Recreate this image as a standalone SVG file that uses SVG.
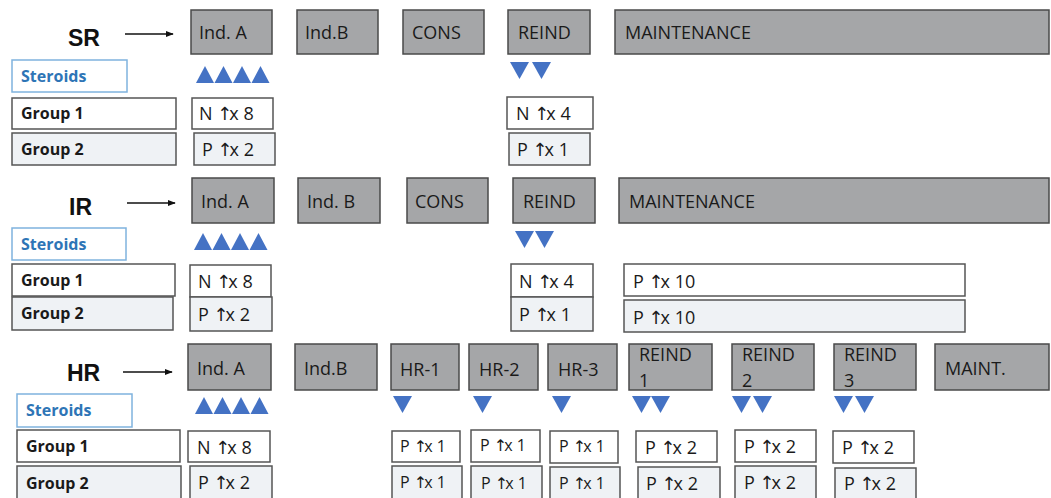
<svg xmlns="http://www.w3.org/2000/svg" width="1051" height="498" viewBox="0 0 1051 498">
<defs>
<style>
.ph{fill:#a5a6a8;stroke:#4a4a4a;stroke-width:1.5}
.wb{fill:#ffffff;stroke:#555;stroke-width:1.5}
.gb{fill:#eff2f5;stroke:#555;stroke-width:1.5}
.sb{fill:#ffffff;stroke:#7fb3de;stroke-width:1.5}
.t{font-family:"Open Sans","Liberation Sans",sans-serif;font-size:18px;fill:#1a1a1a}
.ts{font-family:"Open Sans","Liberation Sans",sans-serif;font-size:16px;fill:#1a1a1a}
.tg{font-family:"Open Sans","Liberation Sans",sans-serif;font-size:16px;font-weight:bold;fill:#1a1a1a}
.st{font-family:"Open Sans","Liberation Sans",sans-serif;font-size:16px;font-weight:bold;fill:#2e75b6}
.lb{font-family:"Liberation Sans",Arial,sans-serif;font-size:23px;font-weight:bold;fill:#111}
.a{font-family:"DejaVu Sans",sans-serif;font-size:1em;letter-spacing:-3px;fill:#1a1a1a}
.tri{fill:#4472c4}
.ar{stroke:#111;stroke-width:1.3;fill:none}
</style>
<marker id="ah" viewBox="0 0 10 10" refX="9" refY="5" markerWidth="8" markerHeight="8" orient="auto" markerUnits="userSpaceOnUse"><path d="M0,1 L10,5 L0,9 z" fill="#111"/></marker>
<path id="up" d="M0,17 L9,0 L18,17 z"/>
<path id="dn" d="M0,0 L19,0 L9.5,17 z"/>
</defs>
<rect width="1051" height="498" fill="#ffffff"/>

<g id="connectors">
<line class="ar" x1="125" y1="34" x2="173" y2="34" marker-end="url(#ah)"/>
<line class="ar" x1="127" y1="203" x2="175" y2="203" marker-end="url(#ah)"/>
<line class="ar" x1="123" y1="372" x2="172" y2="372" marker-end="url(#ah)"/>
</g>

<!-- SR row -->
<g id="sr-label"><text class="lb" x="68" y="46">SR</text></g>
<g id="sr-inda"><rect class="ph" x="191" y="10" width="81" height="44"/><text class="t" x="199" y="39">Ind. A</text></g>
<g id="sr-indb"><rect class="ph" x="297" y="10" width="81" height="44"/><text class="t" x="305" y="39">Ind.B</text></g>
<g id="sr-cons"><rect class="ph" x="403" y="10" width="81" height="44"/><text class="t" x="412" y="39">CONS</text></g>
<g id="sr-reind"><rect class="ph" x="508" y="10" width="82" height="44"/><text class="t" x="518" y="39">REIND</text></g>
<g id="sr-maint"><rect class="ph" x="615" y="10" width="434" height="44"/><text class="t" x="625" y="39">MAINTENANCE</text></g>
<g id="sr-steroids"><rect class="sb" x="12" y="60" width="115" height="32"/><text class="st" x="21" y="82">Steroids</text></g>
<g id="sr-tri-up" class="tri"><use href="#up" x="196" y="66"/><use href="#up" x="214.5" y="66"/><use href="#up" x="233" y="66"/><use href="#up" x="251.5" y="66"/></g>
<g id="sr-tri-dn" class="tri"><use href="#dn" x="510" y="62"/><use href="#dn" x="532" y="62"/></g>
<g id="sr-g1"><rect class="wb" x="12" y="98" width="164" height="31"/><text class="tg" x="21" y="119">Group 1</text></g>
<g id="sr-g2"><rect class="gb" x="12" y="133" width="164" height="32"/><text class="tg" x="21" y="155">Group 2</text></g>
<g id="sr-n8"><rect class="wb" x="192" y="98" width="81" height="31"/><text class="t" x="199" y="120">N <tspan class="a">↑</tspan>x 8</text></g>
<g id="sr-p2"><rect class="gb" x="194" y="133" width="81" height="32"/><text class="t" x="202" y="156">P <tspan class="a">↑</tspan>x 2</text></g>
<g id="sr-n4"><rect class="wb" x="507" y="97" width="86" height="32"/><text class="t" x="516" y="120">N <tspan class="a">↑</tspan>x 4</text></g>
<g id="sr-p1"><rect class="gb" x="509" y="133" width="81" height="32"/><text class="t" x="517" y="156">P <tspan class="a">↑</tspan>x 1</text></g>

<!-- IR row -->
<g id="ir-label"><text class="lb" x="69" y="215">IR</text></g>
<g id="ir-inda"><rect class="ph" x="192" y="178" width="82" height="45"/><text class="t" x="201" y="208">Ind. A</text></g>
<g id="ir-indb"><rect class="ph" x="298" y="178" width="82" height="45"/><text class="t" x="307" y="208">Ind. B</text></g>
<g id="ir-cons"><rect class="ph" x="407" y="178" width="81" height="45"/><text class="t" x="415" y="208">CONS</text></g>
<g id="ir-reind"><rect class="ph" x="513" y="178" width="82" height="45"/><text class="t" x="523" y="208">REIND</text></g>
<g id="ir-maint"><rect class="ph" x="619" y="178" width="430" height="45"/><text class="t" x="629" y="208">MAINTENANCE</text></g>
<g id="ir-steroids"><rect class="sb" x="12" y="228" width="114" height="32"/><text class="st" x="21" y="250">Steroids</text></g>
<g id="ir-tri-up" class="tri"><use href="#up" x="194" y="233"/><use href="#up" x="212.5" y="233"/><use href="#up" x="231" y="233"/><use href="#up" x="249.5" y="233"/></g>
<g id="ir-tri-dn" class="tri"><use href="#dn" x="515" y="231"/><use href="#dn" x="535" y="231"/></g>
<g id="ir-g1"><rect class="wb" x="12" y="264" width="163" height="32"/><text class="tg" x="21" y="286">Group 1</text></g>
<g id="ir-g2"><rect class="gb" x="12" y="297" width="161" height="33"/><text class="tg" x="21" y="319">Group 2</text></g>
<g id="ir-n8"><rect class="wb" x="190" y="265" width="81" height="32"/><text class="t" x="198" y="288">N <tspan class="a">↑</tspan>x 8</text></g>
<g id="ir-p2"><rect class="gb" x="190" y="297" width="82" height="34"/><text class="t" x="198" y="321">P <tspan class="a">↑</tspan>x 2</text></g>
<g id="ir-n4"><rect class="wb" x="511" y="264" width="82" height="33"/><text class="t" x="519" y="288">N <tspan class="a">↑</tspan>x 4</text></g>
<g id="ir-p1"><rect class="gb" x="511" y="297" width="82" height="34"/><text class="t" x="519" y="321">P <tspan class="a">↑</tspan>x 1</text></g>
<g id="ir-m1"><rect class="wb" x="624" y="264" width="341" height="32"/><text class="t" x="633" y="288">P <tspan class="a">↑</tspan>x 10</text></g>
<g id="ir-m2"><rect class="gb" x="624" y="300" width="341" height="32"/><text class="t" x="633" y="324">P <tspan class="a">↑</tspan>x 10</text></g>

<!-- HR row -->
<g id="hr-label"><text class="lb" x="67" y="381">HR</text></g>
<g id="hr-inda"><rect class="ph" x="188" y="344" width="83" height="46"/><text class="t" x="197" y="375">Ind. A</text></g>
<g id="hr-indb"><rect class="ph" x="295" y="344" width="82" height="46"/><text class="t" x="304" y="375">Ind.B</text></g>
<g id="hr-1"><rect class="ph" x="391" y="344" width="68" height="46"/><text class="t" x="400" y="376">HR-1</text></g>
<g id="hr-2"><rect class="ph" x="469" y="344" width="69" height="46"/><text class="t" x="479" y="376">HR-2</text></g>
<g id="hr-3"><rect class="ph" x="548" y="344" width="69" height="46"/><text class="t" x="558" y="376">HR-3</text></g>
<g id="hr-reind1"><rect class="ph" x="629" y="344" width="83" height="46"/><text class="t" x="639" y="361">REIND</text><text class="t" x="639" y="387">1</text></g>
<g id="hr-reind2"><rect class="ph" x="732" y="344" width="82" height="46"/><text class="t" x="742" y="361">REIND</text><text class="t" x="742" y="387">2</text></g>
<g id="hr-reind3"><rect class="ph" x="834" y="344" width="82" height="46"/><text class="t" x="844" y="361">REIND</text><text class="t" x="844" y="387">3</text></g>
<g id="hr-maint"><rect class="ph" x="935" y="344" width="114" height="46"/><text class="t" x="945" y="375">MAINT.</text></g>
<g id="hr-steroids"><rect class="sb" x="17" y="394" width="115" height="33"/><text class="st" x="26" y="416">Steroids</text></g>
<g id="hr-tri-up" class="tri"><use href="#up" x="195" y="397"/><use href="#up" x="213.5" y="397"/><use href="#up" x="232" y="397"/><use href="#up" x="250.5" y="397"/></g>
<g id="hr-tri-dn" class="tri"><use href="#dn" x="393" y="396"/><use href="#dn" x="473" y="396"/><use href="#dn" x="552" y="396"/><use href="#dn" x="632" y="396"/><use href="#dn" x="651" y="396"/><use href="#dn" x="732" y="396"/><use href="#dn" x="753" y="396"/><use href="#dn" x="834" y="396"/><use href="#dn" x="855" y="396"/></g>
<g id="hr-g1"><rect class="wb" x="17" y="430" width="163" height="32"/><text class="tg" x="26" y="452">Group 1</text></g>
<g id="hr-g2"><rect class="gb" x="17" y="466" width="164" height="34"/><text class="tg" x="26" y="489">Group 2</text></g>
<g id="hr-n8"><rect class="wb" x="188" y="431" width="82" height="31"/><text class="t" x="197" y="454">N <tspan class="a">↑</tspan>x 8</text></g>
<g id="hr-p2"><rect class="gb" x="190" y="466" width="82" height="34"/><text class="t" x="198" y="489">P <tspan class="a">↑</tspan>x 2</text></g>
<g id="hr1-a"><rect class="wb" x="392" y="431" width="68" height="31"/><text class="ts" x="400" y="452">P <tspan class="a">↑</tspan>x 1</text></g>
<g id="hr1-b"><rect class="gb" x="392" y="466" width="70" height="34"/><text class="ts" x="400" y="488">P <tspan class="a">↑</tspan>x 1</text></g>
<g id="hr2-a"><rect class="wb" x="471" y="430" width="69" height="32"/><text class="ts" x="480" y="451">P <tspan class="a">↑</tspan>x 1</text></g>
<g id="hr2-b"><rect class="gb" x="471" y="466" width="71" height="34"/><text class="ts" x="481" y="489">P <tspan class="a">↑</tspan>x 1</text></g>
<g id="hr3-a"><rect class="wb" x="550" y="431" width="68" height="32"/><text class="ts" x="559" y="452">P <tspan class="a">↑</tspan>x 1</text></g>
<g id="hr3-b"><rect class="gb" x="550" y="467" width="70" height="33"/><text class="ts" x="559" y="489">P <tspan class="a">↑</tspan>x 1</text></g>
<g id="r1-a"><rect class="wb" x="636" y="431" width="81" height="31"/><text class="t" x="645" y="454">P <tspan class="a">↑</tspan>x 2</text></g>
<g id="r1-b"><rect class="gb" x="638" y="467" width="82" height="33"/><text class="t" x="646" y="490">P <tspan class="a">↑</tspan>x 2</text></g>
<g id="r2-a"><rect class="wb" x="735" y="430" width="81" height="32"/><text class="t" x="744" y="453">P <tspan class="a">↑</tspan>x 2</text></g>
<g id="r2-b"><rect class="gb" x="735" y="466" width="81" height="34"/><text class="t" x="744" y="489">P <tspan class="a">↑</tspan>x 2</text></g>
<g id="r3-a"><rect class="wb" x="833" y="431" width="81" height="32"/><text class="t" x="842" y="454">P <tspan class="a">↑</tspan>x 2</text></g>
<g id="r3-b"><rect class="gb" x="835" y="468" width="81" height="32"/><text class="t" x="844" y="490">P <tspan class="a">↑</tspan>x 2</text></g>
</svg>
